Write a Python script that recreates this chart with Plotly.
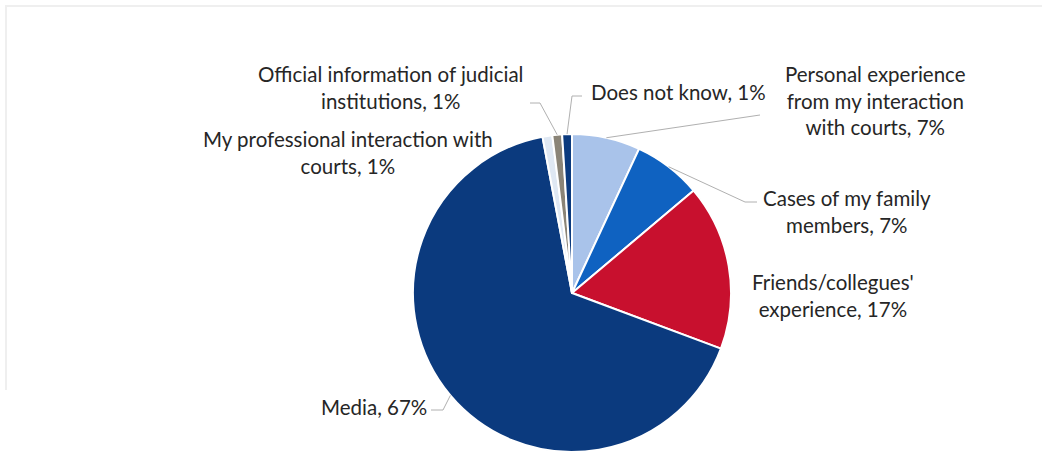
import math
import plotly.graph_objects as go

# Sources of information about courts
labels = [
    "Personal experience from my interaction with courts",
    "Cases of my family members",
    "Friends/collegues' experience",
    "Media",
    "My professional interaction with courts",
    "Official information of judicial institutions",
    "Does not know",
]
values = [7, 7, 17, 67, 1, 1, 1]
label_text = [
    "Personal experience<br>from my interaction<br>with courts, 7%",
    "Cases of my family<br>members, 7%",
    "Friends/collegues'<br>experience, 17%",
    "Media, 67%",
    "My professional interaction with<br>courts, 1%",
    "Official information of judicial<br>institutions, 1%",
    "Does not know, 1%",
]
colors = ["#a9c3ea", "#0f62c1", "#c8102e", "#0b3a7e", "#dfe8f3", "#8a8477", "#0b3a7e"]

W, H = 1042, 459
CX, CY, R = 572, 293, 159  # pie centre and radius in pixels


def px(x):
    return x / W


def py(y):
    return 1 - y / H


fig = go.Figure(go.Pie(
    labels=labels,
    values=values,
    sort=False,
    direction="clockwise",
    rotation=0,
    marker=dict(colors=colors, line=dict(color="white", width=2)),
    textinfo="none",
    hoverinfo="label+percent",
    showlegend=False,
    domain=dict(x=[px(CX - R), px(CX + R)], y=[py(CY + R), py(CY - R)]),
))

# label anchor (text centre) and leader-line elbow/end per slice, in pixels
label_pos = [
    (875, 100, "center"),
    (847, 211, "center"),
    (833, 295, "center"),
    (429, 407, "right"),
    (348, 152, "center"),
    (390, 87, "center"),
    (678, 92, "center"),
]
leaders = [
    [(760, 115)],
    [(745, 202), (757, 202)],
    None,
    [(443, 410), (431, 410)],
    None,
    [(540, 103), (530, 103)],
    [(572, 96), (582, 96)],
]

total = sum(values)
cum = 0
shapes = []
annotations = []
for i, v in enumerate(values):
    mid = (cum + v / 2) / total * 2 * math.pi
    cum += v
    sx = CX + R * math.sin(mid)
    sy = CY - R * math.cos(mid)
    pts = leaders[i]
    if pts:
        path = [(sx, sy)] + pts
        for (x0, y0), (x1, y1) in zip(path[:-1], path[1:]):
            shapes.append(dict(type="line", xref="paper", yref="paper",
                               x0=px(x0), y0=py(y0), x1=px(x1), y1=py(y1),
                               line=dict(color="#b0b0b0", width=1)))
    lx, ly, anchor = label_pos[i]
    annotations.append(dict(text=label_text[i], x=px(lx), y=py(ly),
                            xref="paper", yref="paper", showarrow=False,
                            xanchor=anchor, yanchor="middle", align="center",
                            font=dict(family="Lato", size=20.5, color="#262626")))

# faint frame along top and left
shapes.append(dict(type="line", xref="paper", yref="paper", x0=px(5), y0=py(6),
                   x1=1, y1=py(6), line=dict(color="#efefef", width=2)))
shapes.append(dict(type="line", xref="paper", yref="paper", x0=px(6), y0=py(6),
                   x1=px(6), y1=py(390), line=dict(color="#efefef", width=2)))

fig.update_layout(
    width=W, height=H,
    margin=dict(l=0, r=0, t=0, b=0),
    paper_bgcolor="white",
    plot_bgcolor="white",
    shapes=shapes,
    annotations=annotations,
)

fig.write_html("out.html")
